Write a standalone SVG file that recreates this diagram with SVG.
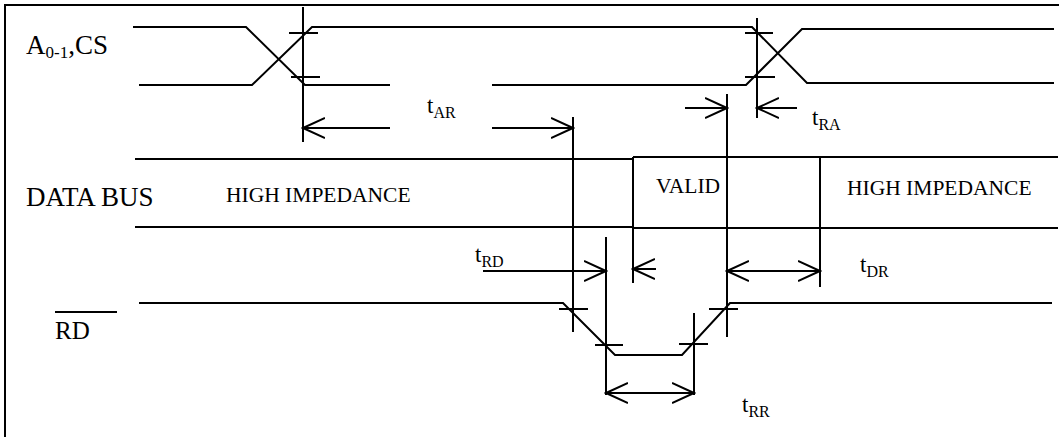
<svg xmlns="http://www.w3.org/2000/svg" width="1059" height="437" viewBox="0 0 1059 437">
<style>
.s{fill:none;stroke:#000;stroke-width:2;stroke-linejoin:miter;stroke-linecap:butt}
.lbl{font-family:"Liberation Serif","Times New Roman",serif;font-size:27px;fill:#000}
.in{font-family:"Liberation Serif","Times New Roman",serif;font-size:21.5px;fill:#000}
.t{font-family:"Liberation Serif","Times New Roman",serif;font-size:23px;fill:#000}
.sub{font-size:16px}
.a{fill:none;stroke:#000;stroke-width:2;marker-end:url(#ah)}
.d{fill:none;stroke:#000;stroke-width:2;marker-start:url(#ah);marker-end:url(#ah)}
</style>
<defs>
<marker id="ah" markerUnits="userSpaceOnUse" viewBox="0 0 24 24" refX="22" refY="12" markerWidth="24" markerHeight="24" orient="auto-start-reverse">
<path d="M0,2 L22,12 L0,22" fill="none" stroke="#000" stroke-width="2"/>
</marker>
</defs>
<rect width="1059" height="437" fill="#fff"/>
<g id="frame"><path class="s" d="M5,437 V5 H1059" stroke-width="2.5"/></g>

<g id="sig-addr">
<text class="lbl" x="26" y="54">A<tspan font-size="17" dy="4">0-1</tspan><tspan dy="-4">,CS</tspan></text>
<path class="s" d="M133,27 H246 L305,85 H390"/>
<path class="s" d="M139,85 H252 L312,27 H752 L807,83 H1054"/>
<path class="s" d="M492,85 H746 L802,29 H1054"/>
<path class="s" d="M303,7 V142 M289,33 H318 M291,77 H320"/>
<path class="s" d="M757,18 V118 M745,33 H773 M745,77 H775"/>
</g>

<g id="sig-data">
<text class="lbl" x="26" y="206" font-size="27.5">DATA BUS</text>
<text class="in" x="226" y="202">HIGH IMPEDANCE</text>
<text class="in" x="656" y="193">VALID</text>
<text class="in" x="847" y="195">HIGH IMPEDANCE</text>
<path class="s" d="M135,159 H633 M135,227 H633"/>
<path class="s" d="M633,157 H1058 M633,228 H1058"/>
<path class="s" d="M633,157 V283 M820,157 V287"/>
</g>

<g id="sig-rd">
<text class="lbl" x="55" y="339" style="font-size:25px">RD</text>
<path class="s" d="M55,312 H117"/>
<path class="s" d="M139,303 H563 L615,355 H682 L730,303 H1052"/>
<path class="s" d="M559,309 H588 M595,345 H623 M679,344 H708 M709,309 H738"/>
</g>

<g id="connectors">
<path class="s" d="M573,117 V332 M727,94 V337 M606,237 V395 M694,313 V395"/>
<path class="a" d="M390,128 H303"/>
<path class="a" d="M492,128 H573"/>
<path class="a" d="M797,108 H757"/>
<path class="a" d="M685,108 H727"/>
<path class="a" d="M483,271 H606"/>
<path class="a" d="M656,269 H633"/>
<path class="d" d="M727,271 H820"/>
<path class="d" d="M606,393 H694"/>
<text class="t" x="427" y="113">t<tspan class="sub" dy="5">AR</tspan></text>
<text class="t" x="812" y="125">t<tspan class="sub" dy="5">RA</tspan></text>
<text class="t" x="475" y="262">t<tspan class="sub" dy="5">RD</tspan></text>
<text class="t" x="860" y="272">t<tspan class="sub" dy="5">DR</tspan></text>
<text class="t" x="742" y="412">t<tspan class="sub" dy="5">RR</tspan></text>
</g>
</svg>
